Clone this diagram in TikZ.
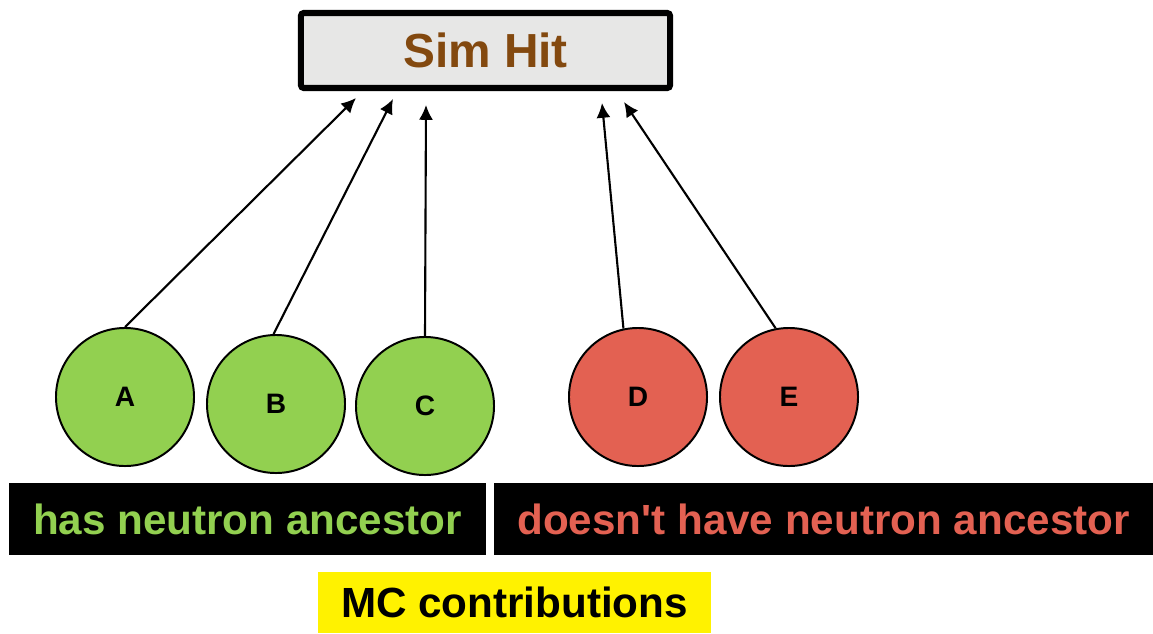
\documentclass[tikz,border=0pt]{standalone}
\usepackage{fontspec}
\setmainfont{Liberation Sans}
\usetikzlibrary{arrows.meta}

\definecolor{hitfill}{HTML}{E7E7E6}
\definecolor{hitbrown}{HTML}{83490F}
\definecolor{ngreen}{HTML}{92D050}
\definecolor{nred}{HTML}{E36152}

\tikzset{
	particle/.style = {circle, draw=black, line width=1.4pt, minimum size=3.45cm, inner sep=0pt, font=\fontsize{20}{24}\selectfont\bfseries},
	tag/.style = {fill=black, minimum height=1.8cm, inner sep=0pt, font=\fontsize{30}{36}\selectfont\bfseries},
	link/.style = {-{Latex[length=10.5pt,width=10pt]}, line width=1.5pt},
}

\begin{document}
\begin{tikzpicture}[x=0.025cm, y=-0.025cm]
			\path[use as bounding box] (0,0) rectangle (1153,633);
			\node[draw=black, fill=hitfill, line width=4.3pt, rounded corners=2pt, minimum width=9.225cm, minimum height=1.875cm, text=hitbrown, font=\fontsize{34}{40}\selectfont\bfseries] (hit) at (485.5,50.5) {Sim Hit};
			% particles with a neutron ancestor
			\node[particle, fill=ngreen] (A) at (125,397) {A};
			\node[particle, fill=ngreen] (B) at (276,404) {B};
			\node[particle, fill=ngreen] (C) at (425,406) {C};
			% particles without one
			\node[particle, fill=nred] (D) at (638,397) {D};
			\node[particle, fill=nred] (E) at (789,397) {E};
			\coordinate (inA) at (356,98);
			\coordinate (inB) at (393,99);
			\coordinate (inC) at (426,105);
			\coordinate (inD) at (602,103);
			\coordinate (inE) at (624,102);
			\draw[link] (A.north) -- (inA);
			\draw[link] (B.92) -- (inB);
			\draw[link] (C.north) -- (inC);
			\draw[link] (D.102) -- (inD);
			\draw[link] (E.101) -- (inE);
			\node[tag, minimum width=11.925cm, text=ngreen] (has) at (247.5,519) {has neutron ancestor};
			\node[tag, minimum width=16.475cm, text=nred] (hasnot) at (823.5,519) {doesn\textquotesingle t have neutron ancestor};
			\node[fill=yellow, minimum width=9.825cm, minimum height=1.525cm, inner sep=0pt, font=\fontsize{30}{36}\selectfont\bfseries] (mc) at (514.5,602.5) {MC contributions};
		\end{tikzpicture}
\end{document}
